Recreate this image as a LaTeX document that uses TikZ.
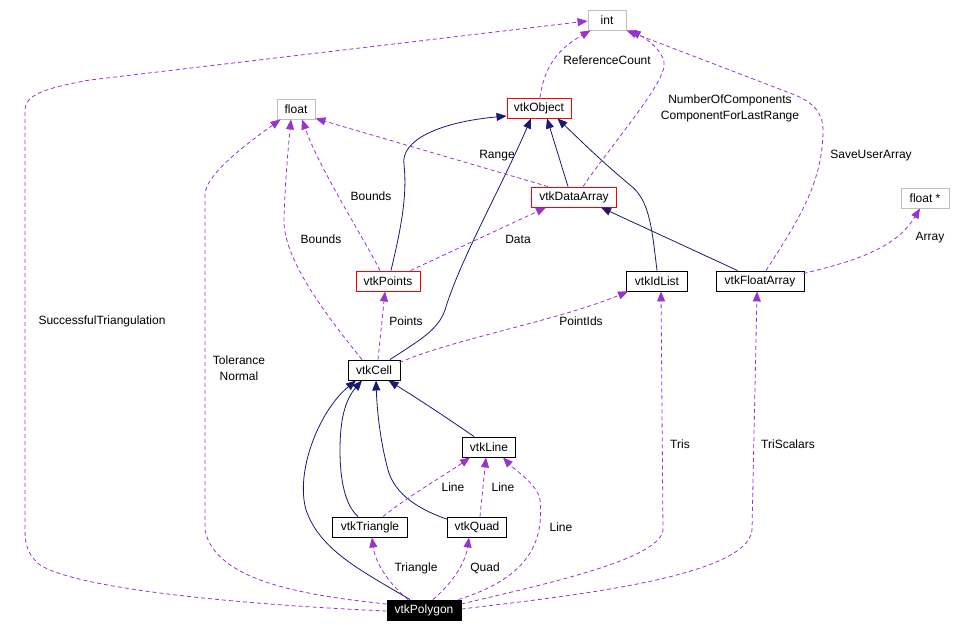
\documentclass[tikz,border=0pt]{standalone}
\usepackage{fontspec}
\setmainfont{Liberation Sans}
\usetikzlibrary{arrows.meta,calc}
\definecolor{inh}{HTML}{191970}
\definecolor{mem}{HTML}{9A32CD}
\definecolor{gbox}{HTML}{BFBFBF}
\tikzset{
  box/.style={draw, fill=white, minimum height=20pt, inner sep=0pt, line width=0.9pt, font=\fontsize{12}{14}\selectfont},
  redbox/.style={box, draw=red},
  greybox/.style={box, draw=gbox},
  blackbox/.style={box, fill=black, text=white},
  lbl/.style={font=\fontsize{12}{16}\selectfont, align=center, inner sep=0pt},
  inhedge/.style={draw=inh, line width=0.8pt, -{Triangle[length=10pt,width=8pt]}},
  memedge/.style={draw=mem, line width=0.8pt, dash pattern=on 4pt off 3pt, -{Triangle[length=10pt,width=8pt]}}
}
\begin{document}
\begin{tikzpicture}[x=1pt,y=-1pt]
\useasboundingbox (0,0) rectangle (972,634);
% nodes
\node[greybox, minimum width=38pt] (int) at (607,20) {int};
\node[redbox, minimum width=64pt] (obj) at (539,108) {vtkObject};
\node[greybox, minimum width=38pt] (fl) at (296,109) {float};
\node[redbox, minimum width=85pt] (da) at (574,197) {vtkDataArray};
\node[greybox, minimum width=48pt] (fs) at (925,198) {float *};
\node[redbox, minimum width=64pt] (pts) at (388,281) {vtkPoints};
\node[box, minimum width=61pt] (idl) at (657,281) {vtkIdList};
\node[box, minimum width=88pt] (fa) at (760,281) {vtkFloatArray};
\node[box, minimum width=52pt] (cell) at (374,370) {vtkCell};
\node[box, minimum width=53pt] (line) at (489,447) {vtkLine};
\node[box, minimum width=75pt] (tri) at (370,527) {vtkTriangle};
\node[box, minimum width=59pt] (quad) at (477,527) {vtkQuad};
\node[blackbox, minimum width=74pt] (pol) at (424,610) {vtkPolygon};
% labels
\node[lbl] (lref) at (607,60) {ReferenceCount};
\node[lbl] (lnum) at (730,108) {NumberOfComponents\\ComponentForLastRange};
\node[lbl] (lrange) at (497,156) {Range};
\node[lbl] (lb1) at (371,196) {Bounds};
\node[lbl] (lb2) at (321,239) {Bounds};
\node[lbl] (ldata) at (518,239) {Data};
\node[lbl] (larr) at (930,238) {Array};
\node[lbl] (lsave) at (871,156) {SaveUserArray};
\node[lbl] (lsucc) at (102,321) {SuccessfulTriangulation};
\node[lbl] (lpts) at (406,321) {Points};
\node[lbl] (lpid) at (581,321) {PointIds};
\node[lbl] (ltol) at (239,368) {Tolerance\\Normal};
\node[lbl] (ltris) at (680,444) {Tris};
\node[lbl] (ltsc) at (788,444) {TriScalars};
\node[lbl] (ll1) at (453,487) {Line};
\node[lbl] (ll2) at (503,487) {Line};
\node[lbl] (ll3) at (561,527) {Line};
\node[lbl] (ltri) at (416,568) {Triangle};
\node[lbl] (lquad) at (485,568) {Quad};
% inheritance edges
\draw[inhedge] ($(da.north)+(-6,0)$) -- ($(obj.south)+(8,0)$);
\draw[inhedge] ($(pts.north)+(3,0)$) .. controls (398,240) and (408,200) .. (404,165) .. controls (400,140) and (440,122) .. ($(obj.west)+(0,8)$);
\draw[inhedge] ($(cell.north)+(16,0)$) .. controls (420,340) and (438,330) .. (445,310) .. controls (460,260) and (500,190) .. ($(obj.south)+(-8,0)$);
\draw[inhedge] (idl.north) .. controls (652,230) and (650,200) .. (630,185) .. controls (600,160) and (580,140) .. ($(obj.south east)+(-14,0)$);
\draw[inhedge] ($(fa.north west)+(22,0)$) -- ($(da.south east)+(-16,0)$);
\draw[inhedge] ($(line.north west)+(12,0)$) .. controls (450,420) and (420,400) .. ($(cell.south east)+(-12,0)$);
\draw[inhedge] ($(tri.north west)+(26,0)$) .. controls (345,505) and (340,480) .. (340,450) .. controls (340,420) and (345,400) .. ($(cell.south)+(-12,0)$);
\draw[inhedge] ($(pol.north)+(-14,0)$) .. controls (360,570) and (320,550) .. (306,510) .. controls (295,470) and (320,410) .. ($(cell.south)+(-18,0)$);
\draw[inhedge] ($(quad.north west)+(1,3)$) .. controls (420,510) and (395,495) .. (388,470) .. controls (380,440) and (377,410) .. ($(cell.south)+(2,0)$);
% member edges
\draw[memedge] ($(obj.north)+(1,0)$) .. controls (545,60) and (565,45) .. ($(int.south west)+(3,0)$);
\draw[memedge] ($(da.north)+(9,0)$) .. controls (615,140) and (668,80) .. (664,62) .. controls (661,48) and (645,38) .. ($(int.south east)+(4,0)$);
\draw[memedge] ($(fa.north)+(6,0)$) .. controls (795,225) and (823,185) .. (823,130) .. controls (823,112) and (812,102) .. (795,95) -- (int.south east);
\draw[memedge] ($(fa.north east)+(-1,3)$) .. controls (850,262) and (895,250) .. ($(fs.south)+(-5,0)$);
\draw[memedge] ($(da.north west)+(17,0)$) -- ($(fl.south east)+(0,-1)$);
\draw[memedge] ($(pts.north)+(-8,0)$) .. controls (365,240) and (320,170) .. ($(fl.south)+(6,0)$);
\draw[memedge] ($(cell.north)+(-12,0)$) .. controls (330,320) and (283,260) .. (284,220) .. controls (285,180) and (289,140) .. ($(fl.south)+(-5,0)$);
\draw[memedge] ($(pol.west)+(0,-6)$) .. controls (300,595) and (215,580) .. (205,530) -- (205,195) .. controls (205,175) and (245,145) .. ($(fl.south west)+(4,0)$);
\draw[memedge] ($(pol.west)+(0,1)$) .. controls (250,605) and (80,590) .. (40,565) .. controls (28,555) and (25,545) .. (25,530) -- (25,110) .. controls (25,95) and (45,88) .. (90,80) -- ($(int.west)+(0,1)$);
\draw[memedge] ($(cell.north)+(4,0)$) -- ($(pts.south)+(-3,0)$);
\draw[memedge] ($(cell.north east)+(-1,3)$) .. controls (450,340) and (560,320) .. ($(idl.south west)+(2,0)$);
\draw[memedge] ($(pts.north east)+(-10,0)$) -- ($(da.south)+(-28,0)$);
\draw[memedge] ($(pol.east)+(0,-6)$) .. controls (540,585) and (660,560) .. (663,530) -- ($(idl.south)+(4,0)$);
\draw[memedge] ($(pol.east)+(0,-1)$) .. controls (560,597) and (748,578) .. (752,530) -- ($(fa.south)+(-3,0)$);
\draw[memedge] ($(pol.north)+(-16,0)$) .. controls (385,580) and (375,560) .. ($(tri.south)+(2,0)$);
\draw[memedge] ($(pol.north)+(9,0)$) .. controls (450,585) and (465,565) .. ($(quad.south)+(-8,0)$);
\draw[memedge] ($(pol.north east)+(-3,0)$) .. controls (520,580) and (545,550) .. (540,500) .. controls (538,485) and (515,470) .. ($(line.south)+(14,0)$);
\draw[memedge] ($(tri.north)+(13,0)$) .. controls (410,495) and (445,475) .. ($(line.south)+(-19,0)$);
\draw[memedge] ($(quad.north)+(3,0)$) -- ($(line.south)+(-3,0)$);
\end{tikzpicture}
\end{document}
